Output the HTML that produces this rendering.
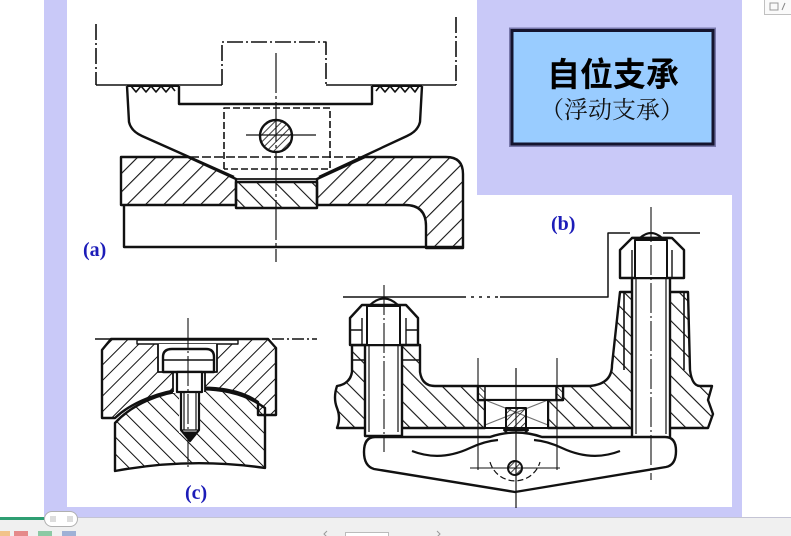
<!DOCTYPE html>
<html><head><meta charset="utf-8"><style>
html,body{margin:0;padding:0;background:#fff;}
body{width:791px;height:536px;overflow:hidden;position:relative;}
svg{position:absolute;left:0;top:0;}
</style></head><body>
<svg width="791" height="536" viewBox="0 0 791 536" xmlns="http://www.w3.org/2000/svg">
<defs>
 <pattern id="hs" width="13" height="13" patternUnits="userSpaceOnUse" patternTransform="rotate(45)">
  <line x1="0" y1="0" x2="0" y2="13" stroke="#111" stroke-width="2.2"/></pattern>
 <pattern id="hb" width="13" height="13" patternUnits="userSpaceOnUse" patternTransform="rotate(-45)">
  <line x1="0" y1="0" x2="0" y2="13" stroke="#111" stroke-width="2.2"/></pattern>
 <pattern id="hsc" width="11" height="11" patternUnits="userSpaceOnUse" patternTransform="rotate(45)">
  <line x1="0" y1="0" x2="0" y2="11" stroke="#111" stroke-width="2"/></pattern>
 <pattern id="hbc" width="12" height="12" patternUnits="userSpaceOnUse" patternTransform="rotate(-45)">
  <line x1="0" y1="0" x2="0" y2="12" stroke="#111" stroke-width="2"/></pattern>
 <pattern id="hsm" width="5" height="5" patternUnits="userSpaceOnUse" patternTransform="rotate(45)">
  <line x1="0" y1="0" x2="0" y2="5" stroke="#111" stroke-width="1.6"/></pattern>
 <pattern id="hbm" width="5" height="5" patternUnits="userSpaceOnUse" patternTransform="rotate(-45)">
  <line x1="0" y1="0" x2="0" y2="5" stroke="#111" stroke-width="1.6"/></pattern>
</defs>

<!-- background -->
<rect x="44" y="0" width="698" height="518" fill="#c9c9f8"/>
<path d="M67,0 H477 V195 H732 V507 H67 Z" fill="#fff"/>
<rect x="0" y="518" width="791" height="18" fill="#f0f0f0"/>
<line x1="0" y1="517.5" x2="791" y2="517.5" stroke="#c4c4d4" stroke-width="1"/>
<rect x="0" y="517" width="44" height="3" fill="#2e9e72"/>
<rect x="44.5" y="511.5" width="33" height="15" rx="7.5" fill="#fff" stroke="#b0b0b0"/>
<g stroke="#aaa" stroke-width="0.8">
 <line x1="51" y1="516" x2="51" y2="522"/><line x1="53" y1="516" x2="53" y2="522"/><line x1="55" y1="516" x2="55" y2="522"/>
 <line x1="68" y1="516" x2="68" y2="522"/><line x1="70" y1="516" x2="70" y2="522"/><line x1="72" y1="516" x2="72" y2="522"/>
</g>
<rect x="0" y="531" width="10" height="5" fill="#f2c38a"/>
<rect x="14" y="531" width="14" height="5" fill="#e58a8a"/>
<rect x="38" y="531" width="14" height="5" fill="#8cc9a4"/>
<rect x="62" y="531" width="14" height="5" fill="#9fb1d6"/>
<rect x="345.5" y="532.5" width="43" height="6" fill="#fff" stroke="#bbb"/>
<path d="M327,531 L324,534 L327,537" stroke="#999" fill="none"/>
<path d="M437,531 L440,534 L437,537" stroke="#999" fill="none"/>
<rect x="764.5" y="-1" width="30" height="15.5" fill="#fafafa" stroke="#c0c0c0"/>
<rect x="770" y="3" width="8" height="7" fill="none" stroke="#999"/>
<line x1="782" y1="10" x2="785" y2="3" stroke="#888"/>

<!-- title box -->
<rect x="509" y="27.5" width="207" height="119.5" fill="#7777aa"/>
<rect x="510.5" y="29" width="204" height="116.5" fill="#14142e"/>
<rect x="513.5" y="32" width="198" height="110.5" fill="#99ccff"/>
<text x="613" y="86" text-anchor="middle" font-family="'Liberation Sans','Noto Sans CJK SC',sans-serif" font-size="33" font-weight="bold" fill="#000">自位支承</text>
<text x="612" y="118" text-anchor="middle" font-family="'Liberation Serif','Noto Serif CJK SC',serif" font-size="24" fill="#111">（浮动支承）</text>

<!-- labels -->
<g font-family="'Liberation Serif',serif" font-weight="bold" font-size="20" fill="#1c1cb8">
 <text x="83" y="256">(a)</text>
 <text x="551" y="230">(b)</text>
 <text x="185" y="499">(c)</text>
</g>

<!-- ============ (a) ============ -->
<g stroke="#111" fill="none" stroke-linejoin="round">
 <path d="M96,24 V85" stroke-width="1.6" stroke-dasharray="16,3,2,3"/>
 <path d="M456,17 V85" stroke-width="1.6" stroke-dasharray="16,3,2,3"/>
 <path d="M222,85 V42 H326 V85" stroke-width="1.6" stroke-dasharray="16,3,2,3"/>
 <path d="M96,85 H222 M326,85 H456" stroke-width="1.6"/>
 <!-- base hatched -->
 <path d="M121,157 H188 L236,179 V205 H121 Z" fill="url(#hs)" stroke-width="2.4"/>
 <path d="M317,179 L365,157 H446 Q463,157 463,174 V248 H426 V226 Q426,205 405,205 H317 Z" fill="url(#hs)" stroke-width="2.4"/>
 <rect x="236" y="182" width="81" height="26" fill="url(#hb)" stroke-width="2.4"/>
 <path d="M236,179 H317" stroke-width="1.8"/>
 <path d="M124,205 V247 H463" stroke-width="2.4"/>
 <!-- floating piece -->
 <path d="M127,86 L129,122 Q131,131 142,136 L234,177" stroke-width="2.4"/>
 <path d="M422,86 L420,122 Q418,131 407,136 L319,177" stroke-width="2.4"/>
 <path d="M127,86 H179 M372,86 H422" stroke-width="2"/>
 <path d="M179,86 V104 H372 V86" stroke-width="2.4"/>
 <path d="M131,86 L136,92 L141,86 L146,92 L151,86 L156,92 L161,86 L166,92 L171,86 L175,91" stroke-width="1.6"/>
 <path d="M376,91 L380,86 L385,92 L390,86 L395,92 L400,86 L405,92 L410,86 L415,92 L419,86" stroke-width="1.6"/>
 <!-- dashed box -->
 <path d="M224,169 V108 H330 V169 H224" stroke-width="1.6" stroke-dasharray="7,3"/>
 <path d="M190,157 H365" stroke-width="1.6" stroke-dasharray="9,3"/>
 <circle cx="276" cy="136" r="16" fill="url(#hsm)" stroke-width="2.4"/>
 <path d="M246,135 H316" stroke-width="1.2"/>
 <path d="M276,53 V262" stroke-width="1.2" stroke-dasharray="40,3,3,3"/>
</g>

<!-- ============ (c) ============ -->
<g stroke="#111" fill="none" stroke-linejoin="round">
 <path d="M95,339 H252" stroke-width="1.4"/>
 <path d="M252,339 H317" stroke-width="1.4" stroke-dasharray="12,3,2,3"/>
 <path d="M115,423 C150,385 225,378 265,408 V468 Q190,457 115,471 Z" fill="url(#hbc)" stroke-width="2.4"/>
 <path d="M102,418 H115 C150,385 225,378 258,402 V415 H276 V348 L268,339 H111 L102,350 Z" fill="url(#hsc)" stroke-width="2.4"/>
 <rect x="137" y="340" width="101" height="4" fill="#fff" stroke-width="1.4"/>
 <rect x="158" y="344" width="59" height="28" fill="#fff" stroke="none"/>
 <rect x="173" y="371" width="32" height="22" fill="#fff" stroke="none"/>
 <rect x="179" y="385" width="21" height="48" fill="#fff" stroke="none"/>
 <path d="M158,344 V372 H173 V392 M217,344 V372 H205 V392" stroke-width="1.8"/>
 <path d="M163,372 V357 Q163,349 172,349 H206 Q214,349 214,357 V372 Z" fill="#fff" stroke-width="2.4"/>
 <path d="M163,360 H214" stroke-width="1.4"/>
 <rect x="177" y="372" width="25" height="20" fill="#fff" stroke-width="2.2"/>
 <path d="M181,392 V430 L190,441 L199,430 V392" stroke-width="2.2"/>
 <path d="M184,392 V430 M196,392 V430 M181,430 H199" stroke-width="1.2"/>
 <path d="M183,432 L190,440 L197,432 Z" fill="#111"/>
 <path d="M188,318 V468" stroke-width="1.1" stroke-dasharray="30,3,2,3"/>
</g>

<!-- ============ (b) ============ -->
<g stroke="#111" fill="none" stroke-linejoin="round">
 <path d="M343,297 H463" stroke-width="1.5"/>
 <path d="M463,297 H500" stroke-width="1.5" stroke-dasharray="3,5"/>
 <path d="M500,297 H608 V233 H630" stroke-width="1.5"/>
 <path d="M663,233 H700" stroke-width="1.5"/>
 <!-- left body -->
 <path d="M337,386 Q350,384 352,372 V345 H420 V372 Q422,386 435,386 H478 V400 H485 V428 H337 Q341,418 337,408 Q333,398 337,386 Z" fill="url(#hb)" stroke-width="2.4"/>
 <!-- right body -->
 <path d="M563,386 H590 Q612,384 612,365 L620,292 H688 L690,370 Q692,386 700,386 H712 L708,400 L713,414 L708,428 H548 V400 H563 Z" fill="url(#hb)" stroke-width="2.4"/>
 <!-- slot -->
 <rect x="478" y="386" width="85" height="14" fill="#fff" stroke-width="2.2"/>
 <rect x="485" y="400" width="63" height="28" fill="#fff" stroke-width="2"/>
 <rect x="478" y="386" width="7" height="14" fill="url(#hbm)" stroke-width="1.5"/>
 <rect x="556" y="386" width="7" height="14" fill="url(#hbm)" stroke-width="1.5"/>
 <path d="M485,400 L548,425 M548,400 L485,425" stroke-width="1.2" opacity="0.6"/>
 <rect x="506" y="408" width="20" height="22" fill="url(#hsm)" stroke-width="2"/>
 <path d="M504,430 Q516,442 528,430 Z" fill="#fff" stroke-width="2"/>
 <!-- left stud & cap -->
 <rect x="365" y="313" width="37" height="123" fill="#fff" stroke-width="2.4"/>
 <path d="M369,318 V432 M398,318 V432" stroke-width="1.2"/>
 <path d="M350,345 V318 L362,305 H406 L418,318 V345 Z" fill="#fff" stroke-width="2.4"/>
 <path d="M362,318 V345 M406,318 V345 M350,330 H362 M406,330 H418" stroke-width="1.4"/>
 <rect x="367" y="306" width="33" height="39" fill="#fff" stroke-width="2"/>
 <path d="M370,305 Q384,292 398,305" stroke-width="2.2"/>
 <path d="M352,360 H365 M402,360 H420" stroke-width="1.4"/>
 <!-- right stud & cap -->
 <rect x="632" y="238" width="38" height="200" fill="#fff" stroke-width="2.4"/>
 <path d="M636,244 V434 M666,244 V434" stroke-width="1.2"/>
 <path d="M620,278 V250 L632,238 H672 L684,250 V278 Z" fill="#fff" stroke-width="2.4"/>
 <path d="M632,250 V278 M672,250 V278" stroke-width="1.4"/>
 <rect x="635" y="240" width="32" height="38" fill="#fff" stroke-width="2"/>
 <path d="M640,238 Q651,228 662,238" stroke-width="2.2"/>
 <path d="M620,278 H632 M670,278 H684 M624,292 V370 M684,292 V370" stroke-width="1.6"/>
 <!-- rocker -->
 <path d="M375,437 H490 Q516,428 542,437 H665 Q676,437 676,451 Q676,465 666,467 L515,492 L374,469 Q364,466 364,452 Q364,437 375,437 Z" fill="#fff" stroke-width="2.4"/>
 <path d="M412,451 Q440,462 470,448 Q485,441 498,440" stroke-width="2.2"/>
 <path d="M534,440 Q547,441 562,448 Q592,462 620,451" stroke-width="2.2"/>
 <circle cx="515" cy="468" r="7" fill="url(#hsm)" stroke-width="2"/>
 <path d="M470,468 H560" stroke-width="1.1"/>
 <path d="M490,462 A26,26 0 0 0 540,462" stroke-width="1.2" stroke-dasharray="6,3"/>
 <path d="M478,358 V470 M557,358 V470" stroke-width="1.1"/>
 <!-- center lines -->
 <path d="M516,368 V508" stroke-width="1.2"/>
 <path d="M384,285 V452" stroke-width="1.1" stroke-dasharray="30,3,2,3"/>
 <path d="M651,207 V480" stroke-width="1.1" stroke-dasharray="30,3,2,3"/>
</g>
</svg>
</body></html>
